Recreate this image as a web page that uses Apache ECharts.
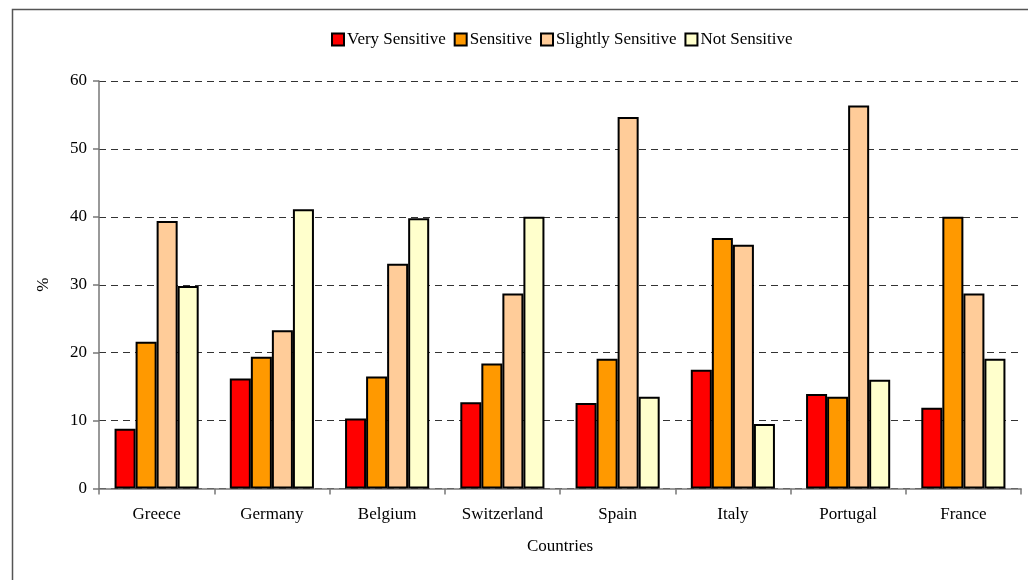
<!DOCTYPE html>
<html>
<head>
<meta charset="utf-8">
<script src="https://cdn.jsdelivr.net/npm/echarts@6/dist/echarts.min.js"></script>
<style>
  html, body { margin: 0; padding: 0; background: #fff; }
  #chart { width: 1028px; height: 580px; }
</style>
</head>
<body>
<div id="chart"></div>
<script>
const countries = ["Greece", "Germany", "Belgium", "Switzerland", "Spain", "Italy", "Portugal", "France"];
const verySensitive = [8.8, 16.2, 10.3, 12.7, 12.6, 17.5, 13.9, 11.9];
const sensitive = [21.6, 19.4, 16.5, 18.4, 19.1, 36.9, 13.5, 40.0];
const slightlySensitive = [39.4, 23.3, 33.1, 28.7, 54.7, 35.9, 56.4, 28.7];
const notSensitive = [29.8, 41.1, 39.8, 40.0, 13.5, 9.5, 16.0, 19.1];

const font = "Liberation Serif";
const chart = echarts.init(document.getElementById("chart"));

function bar(name, data, color) {
  return {
    name: name,
    type: "bar",
    data: data,
    barGap: "0%",
    barCategoryGap: "27%",
    itemStyle: { color: color, borderColor: "#000", borderWidth: 2 },
    animation: false
  };
}

chart.setOption({
  backgroundColor: "#fff",
  textStyle: { fontFamily: font },
  graphic: [
    {
      type: "polyline",
      shape: { points: [[12.5, 580], [12.5, 9.5], [1028, 9.5]] },
      style: { stroke: "#555", lineWidth: 1.5, fill: null }
    }
  ],
  legend: {
    top: 26,
    left: 326,
    itemWidth: 12,
    itemHeight: 12,
    itemGap: 8,
    icon: "rect",
    textStyle: { fontFamily: font, fontSize: 17, color: "#000", padding: [0, 0, 0, -2] },
    itemStyle: { borderColor: "#000", borderWidth: 2 }
  },
  grid: { left: 99, right: 7, top: 81, bottom: 91.5 },
  xAxis: {
    type: "category",
    data: countries,
    name: "Countries",
    nameLocation: "middle",
    nameGap: 50,
    nameTextStyle: { fontFamily: font, fontSize: 17, color: "#000" },
    axisLine: { lineStyle: { color: "#777", width: 1.5 } },
    axisTick: { show: true, length: 6, lineStyle: { color: "#777", width: 1.5 } },
    axisLabel: { fontFamily: font, fontSize: 17, color: "#000", margin: 18 }
  },
  yAxis: {
    type: "value",
    min: 0,
    max: 60,
    interval: 10,
    name: "%",
    nameLocation: "middle",
    nameGap: 47,
    nameRotate: 90,
    nameTextStyle: { fontFamily: font, fontSize: 17, color: "#000" },
    axisLine: { show: true, lineStyle: { color: "#777", width: 1.5 } },
    axisTick: { show: true, length: 6, lineStyle: { color: "#777", width: 1.5 } },
    axisLabel: { fontFamily: font, fontSize: 17, color: "#000", margin: 12 },
    splitLine: { lineStyle: { color: "#333", type: [7, 5], width: 1.2 } }
  },
  series: [
    bar("Very Sensitive", verySensitive, "#ff0000"),
    bar("Sensitive", sensitive, "#ff9900"),
    bar("Slightly Sensitive", slightlySensitive, "#ffcc99"),
    bar("Not Sensitive", notSensitive, "#ffffcc")
  ]
});
</script>
</body>
</html>
